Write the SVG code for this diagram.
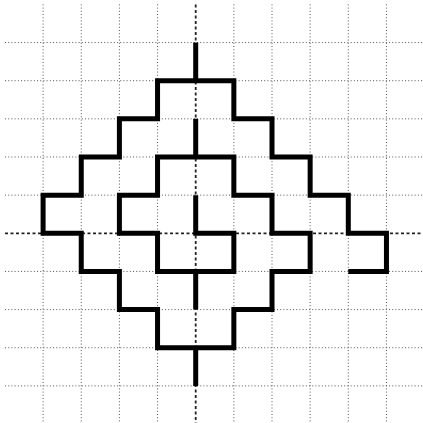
<svg xmlns="http://www.w3.org/2000/svg" width="423" height="423" viewBox="0 0 423 423">
<style>
.grid{stroke:#555;stroke-width:1;stroke-dasharray:1 2.2;fill:none}
.axis{stroke:#222;stroke-width:1.8;stroke-dasharray:3 2.5;fill:none}
.curve{stroke:#000;stroke-width:5;fill:none;stroke-linejoin:miter;stroke-linecap:butt}
</style>
<rect width="423" height="423" fill="#fff"/>
<g id="grid">
<path class="grid" d="M43.1 4.4V424 M81.25 4.4V424 M119.4 4.4V424 M157.55 4.4V424 M233.85 4.4V424 M272 4.4V424 M310.15 4.4V424 M348.3 4.4V424 M386.45 4.4V424"/>
<path class="grid" d="M5 42.55H424 M5 80.7H424 M5 118.85H424 M5 157H424 M5 195.15H424 M5 271.45H424 M5 309.6H424 M5 347.75H424 M5 385.9H424"/>
</g>
<g id="axes">
<path class="axis" d="M195.7 4.4V424"/>
<path class="axis" d="M5 233.3H424"/>
</g>
<g id="connectors">
<path class="curve" d="M348.3 271.45H386.45V233.3H348.3V195.15H310.15V157H272V118.85H233.85V80.7H157.55V118.85H119.4V157H81.25V195.15H43.1V233.3H81.25V271.45H119.4V309.6H157.55V347.75H233.85V309.6H272V271.45H310.15V233.3H272V195.15H233.85V157H157.55V195.15H119.4V233.3H157.55V271.45H233.85V233.3H195.7V195.15"/>
<path class="curve" d="M195.7 42.55V80.7 M195.7 118.85V157 M195.7 271.45V309.6 M195.7 347.75V385.9"/>
</g>
</svg>
